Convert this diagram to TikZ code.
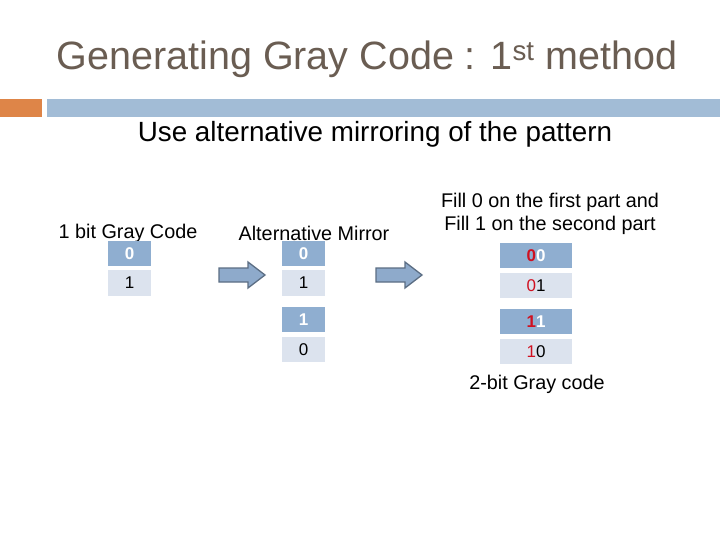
\documentclass[tikz,border=0pt]{standalone}
\usepackage{fontspec}
\setmainfont{Liberation Sans}
\definecolor{ttl}{HTML}{6A5D52}
\definecolor{org}{HTML}{DE8548}
\definecolor{bar}{HTML}{A2BCD6}
\definecolor{dk}{HTML}{8FAED0}
\definecolor{lt}{HTML}{DCE3EE}
\definecolor{arr}{HTML}{8EAACB}
\definecolor{red}{HTML}{D01020}
\begin{document}
\begin{tikzpicture}[x=1pt,y=-1pt,
  cellA/.style={fill=dk,text=white,inner sep=0,font=\fontsize{17}{17}\selectfont\bfseries},
  cellB/.style={fill=lt,text=black,inner sep=0,font=\fontsize{17}{17}\selectfont},
  lbl/.style={font=\fontsize{19.8}{23}\selectfont,align=center},
  arrw/.style={draw=arr!65!black,fill=arr,line width=1.3pt,line join=miter}]
\useasboundingbox (0,0) rectangle (720,540);
\fill[white] (0,0) rectangle (720,540);
\node[text=ttl,font=\fontsize{39.5}{40}\selectfont] (title) at (367,59) {Generating Gray Code : 1\textsuperscript{st} method};
\fill[org] (0,99) rectangle (42,117);
\fill[bar] (47,99) rectangle (720,117);
\node[font=\fontsize{27.8}{28}\selectfont] (sub) at (375,134) {Use alternative mirroring of the pattern};
\node[lbl] (l1) at (128,233) {1 bit Gray Code};
\node[lbl] (l2) at (314,233) {Alternative Mirror};
\node[lbl] (l3) at (550,214) {Fill 0 on the first part and\\Fill 1 on the second part};
\node[cellA,minimum width=43pt,minimum height=25pt] (a0) at (129.5,253.5) {0};
\node[cellB,minimum width=43pt,minimum height=26pt] (a1) at (129.5,283) {1};
\node[cellA,minimum width=43pt,minimum height=25pt] (b0) at (303.5,253.5) {0};
\node[cellB,minimum width=43pt,minimum height=26pt] (b1) at (303.5,283) {1};
\node[cellA,minimum width=43pt,minimum height=25pt] (b2) at (303.5,319.5) {1};
\node[cellB,minimum width=43pt,minimum height=25pt] (b3) at (303.5,349.5) {0};
\node[cellA,minimum width=72pt,minimum height=25pt] (c0) at (536,255.5) {\textcolor{red}{0}0};
\node[cellB,minimum width=72pt,minimum height=25pt] (c1) at (536,285.5) {\textcolor{red}{0}1};
\node[cellA,minimum width=72pt,minimum height=25pt] (c2) at (536,321.5) {\textcolor{red}{1}1};
\node[cellB,minimum width=72pt,minimum height=25pt] (c3) at (536,351.5) {\textcolor{red}{1}0};
\node[font=\fontsize{19.8}{20}\selectfont] (cap) at (537,384) {2-bit Gray code};
\draw[arrw] (219,268) -- (248,268) -- (248,262) -- (265,275) -- (248,288) -- (248,282) -- (219,282) -- cycle;
\draw[arrw] (376,268) -- (405,268) -- (405,262) -- (422,275) -- (405,288) -- (405,282) -- (376,282) -- cycle;
\end{tikzpicture}
\end{document}
